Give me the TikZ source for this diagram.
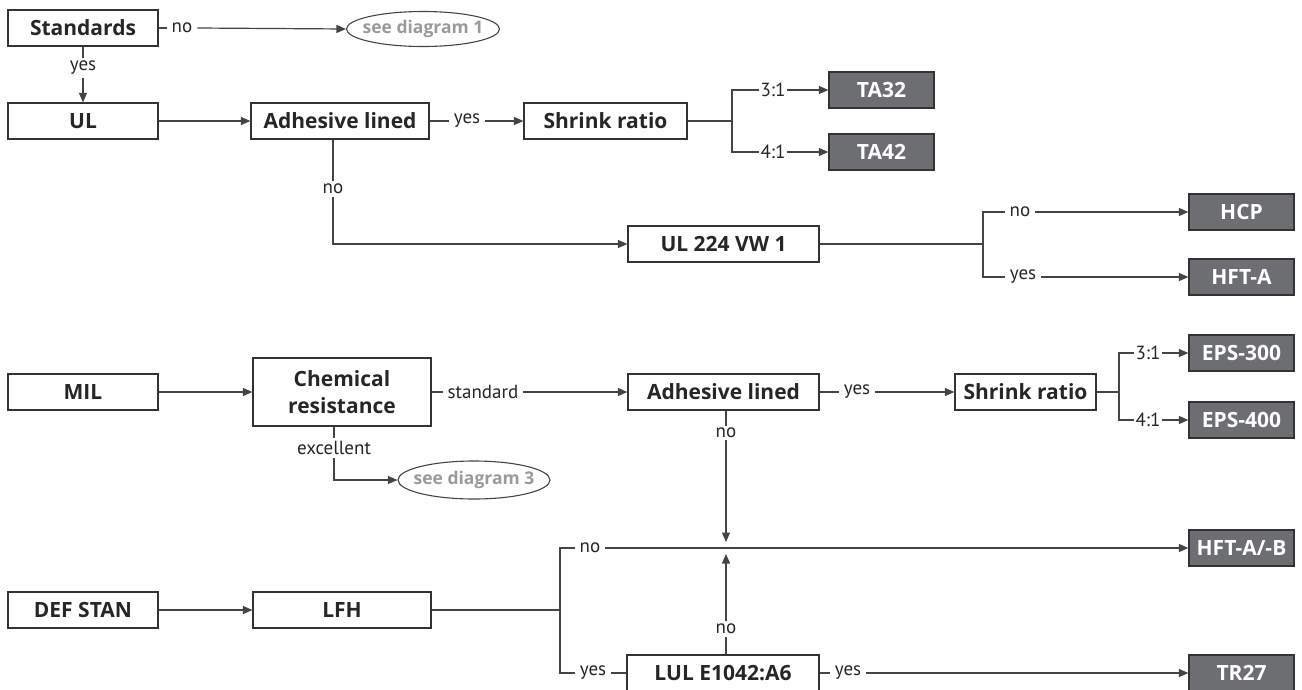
\documentclass[tikz,border=0pt]{standalone}
\usepackage{fontspec}
\setmainfont{Open Sans}
\newfontfamily\lblfont{PT Sans}
\usetikzlibrary{arrows.meta,shapes.geometric,calc}
\definecolor{linec}{HTML}{444444}
\definecolor{boxc}{HTML}{333333}
\definecolor{darkfill}{HTML}{6D6E71}
\definecolor{ellc}{HTML}{9A9A9A}
\definecolor{txtc}{HTML}{262626}
\begin{document}
\begin{tikzpicture}[x=1pt,y=-1pt,
  conn/.style={draw=linec, line width=1.2pt},
  arr/.style={conn, -{Triangle[length=9.5pt,width=8pt]}},
  qbox/.style={draw=boxc, line width=1.2pt, fill=white, minimum height=36pt, inner sep=0pt,
     font=\fontsize{21}{27}\selectfont\bfseries, text=txtc, align=center},
  rbox/.style={draw=boxc, line width=1.2pt, fill=darkfill, minimum height=36pt, inner sep=0pt,
     font=\fontsize{21}{22}\selectfont\bfseries, text=white},
  lbl/.style={fill=white, inner xsep=5pt, inner ysep=1pt, font=\lblfont\fontsize{19}{20}\selectfont, text=txtc},
  ell/.style={ellipse, draw=linec, line width=1.1pt, inner xsep=-20pt, inner ysep=-2pt,
     font=\fontsize{17.5}{18}\selectfont\bfseries, text=ellc}
]
\useasboundingbox (0,0) rectangle (1302,689);

% ---------- UL block ----------
\node[qbox, minimum width=150pt] (std) at (83,28) {Standards};
\node[ell, minimum width=153pt, minimum height=35pt] (ell1) at (423,29) {see diagram 1};
\node[lbl] (l1) at (182,28) {no};
\draw[conn] (std.east) -- (l1.west);
\draw[arr] (l1.east) -- (ell1.west);

\node[qbox, minimum width=150pt] (ul) at (83,121) {UL};
\node[lbl, inner xsep=1pt, inner ysep=3pt] (l2) at (83,68) {yes};
\draw[conn] (std.south) -- (l2.north);
\draw[arr] (l2.south) -- (ul.north);

\node[qbox, minimum width=178pt] (adh1) at (340,121) {Adhesive lined};
\draw[arr] (ul.east) -- (adh1.west);

\node[qbox, minimum width=163pt] (shr1) at (605.5,121) {Shrink ratio};
\node[lbl] (l3) at (467,121) {yes};
\draw[conn] (adh1.east) -- (l3.west);
\draw[arr] (l3.east) -- (shr1.west);

\node[rbox, minimum width=105pt] (ta32) at (881.5,90) {TA32};
\node[rbox, minimum width=105pt] (ta42) at (881.5,152) {TA42};
\coordinate (b1) at (732,121);
\node[lbl, inner xsep=1pt] (l4) at (773,90) {3:1};
\node[lbl, inner xsep=1pt] (l5) at (773,152) {4:1};
\draw[conn] (shr1.east) -- (b1);
\draw[conn] (l4.west) -| (b1) |- (l5.west);
\draw[arr] (l4.east) -- (ta32.west);
\draw[arr] (l5.east) -- (ta42.west);

\node[qbox, minimum width=191pt] (ul224) at (723.5,244) {UL 224 VW 1};
\node[lbl, inner xsep=1pt, inner ysep=3pt] (l6) at (333,189) {no};
\draw[conn] (l6.north |- adh1.south) -- (l6.north);
\draw[arr] (l6.south) |- (ul224.west);

\node[rbox, minimum width=105pt] (hcp) at (1241.5,212) {HCP};
\node[rbox, minimum width=105pt] (hfta) at (1241.5,277) {HFT-A};
\coordinate (b2) at (983,244);
\node[lbl] (l7) at (1020,212) {no};
\node[lbl] (l8) at (1023,277) {yes};
\draw[conn] (ul224.east) -- (b2);
\draw[conn] (l7.west) -| (b2) |- (l8.west);
\draw[arr] (l7.east) -- (hcp.west);
\draw[arr] (l8.east) -- (hfta.west);

% ---------- MIL block ----------
\node[qbox, minimum width=150pt] (mil) at (83,392) {MIL};
\node[qbox, minimum width=178pt, minimum height=68pt] (chem) at (342,392) {Chemical\\resistance};
\draw[arr] (mil.east) -- (chem.west);

\node[qbox, minimum width=191pt] (adh2) at (723.5,392) {Adhesive lined};
\node[lbl] (l9) at (483,392) {standard};
\draw[conn] (chem.east) -- (l9.west);
\draw[arr] (l9.east) -- (adh2.west);

\node[qbox, minimum width=141pt] (shr2) at (1025.5,392) {Shrink ratio};
\node[lbl] (l10) at (857,392) {yes};
\draw[conn] (adh2.east) -- (l10.west);
\draw[arr] (l10.east) -- (shr2.west);

\node[rbox, minimum width=105pt] (eps3) at (1241.5,353) {EPS-300};
\node[rbox, minimum width=105pt] (eps4) at (1241.5,420) {EPS-400};
\coordinate (b3) at (1119,392);
\node[lbl, inner xsep=1pt] (l11) at (1148,353) {3:1};
\node[lbl, inner xsep=1pt] (l12) at (1148,420) {4:1};
\draw[conn] (shr2.east) -- (b3);
\draw[conn] (l11.west) -| (b3) |- (l12.west);
\draw[arr] (l11.east) -- (eps3.west);
\draw[arr] (l12.east) -- (eps4.west);

\node[lbl, inner xsep=1pt, inner ysep=3pt] (l13) at (334,448) {excellent};
\node[ell, minimum width=152pt, minimum height=38pt] (ell3) at (474,480) {see diagram 3};
\draw[conn] (l13.north |- chem.south) -- (l13.north);
\draw[arr] (l13.south) |- (ell3.west);

% ---------- DEF STAN block ----------
\node[qbox, minimum width=150pt] (def) at (83,610) {DEF STAN};
\node[qbox, minimum width=178pt] (lfh) at (342,610) {LFH};
\draw[arr] (def.east) -- (lfh.west);

\node[rbox, minimum width=105pt] (hftab) at (1241.5,548) {HFT-A/-B};
\node[rbox, minimum width=105pt] (tr27) at (1241.5,673) {TR27};
\node[qbox, minimum width=192pt] (lul) at (723,673) {LUL E1042:A6};

\coordinate (b4) at (560,610);
\node[lbl] (l14) at (590,548) {no};
\node[lbl] (l15) at (593,673) {yes};
\draw[conn] (lfh.east) -- (b4);
\draw[conn] (l14.west) -| (b4) |- (l15.west);
\draw[arr] (l14.east) -- (hftab.west);
\draw[conn] (l15.east) -- (lul.west);

\node[lbl] (l16) at (848,673) {yes};
\draw[conn] (lul.east) -- (l16.west);
\draw[arr] (l16.east) -- (tr27.west);

\coordinate (t1) at (726,542);
\coordinate (t2) at (726,554);
\node[lbl, inner xsep=1pt, inner ysep=2pt] (l17) at (726,433) {no};
\draw[conn] (l17.north |- adh2.south) -- (l17.north);
\draw[arr] (l17.south) -- (t1);
\node[lbl, inner xsep=1pt, inner ysep=3pt] (l18) at (726,629) {no};
\draw[conn] (l18.south |- lul.north) -- (l18.south);
\draw[arr] (l18.north) -- (t2);
\end{tikzpicture}
\end{document}
